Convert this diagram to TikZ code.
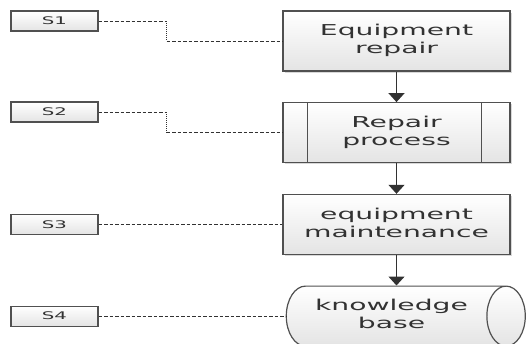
\documentclass[tikz,border=0pt]{standalone}
\usepackage{fontspec}
\setmainfont{DejaVu Sans}
\usepackage{graphicx}
\usetikzlibrary{arrows.meta,shapes.geometric,positioning,shadows}
\definecolor{fcgray}{RGB}{50,50,50}
\definecolor{fcline}{RGB}{80,80,80}
\definecolor{fcfill}{RGB}{228,228,228}
\newcommand{\widetext}[1]{\scalebox{1.88}[1]{\begin{tabular}{@{}c@{}}#1\end{tabular}}}
\tikzstyle{arrow} = [line width=1.3pt,-{Triangle[width=16pt,length=9pt]},color=fcgray]
\tikzstyle{link} = [line width=1pt,dash pattern=on 3.5pt off 2pt,color=fcgray]
\tikzstyle{knee} = [line width=1.6pt,dash pattern=on 1pt off 1pt,color=fcgray]
\tikzstyle{stepbox} = [rectangle, minimum width=227pt, minimum height=60pt, draw=fcline, line width=1.2pt, top color=white, bottom color=fcfill, text=fcgray, font=\fontsize{15}{18}\selectfont, drop shadow={shadow xshift=1.5pt, shadow yshift=-1.5pt, fill=black!30, opacity=0.5}]
\tikzstyle{sbox} = [rectangle, minimum width=87pt, minimum height=20pt, draw=fcline, line width=1.1pt, top color=white, bottom color=fcfill, text=fcgray, font=\fontsize{10.5}{12}\selectfont, drop shadow={shadow xshift=1pt, shadow yshift=-1pt, fill=black!30, opacity=0.5}]
\tikzstyle{store} = [cylinder, shape border rotate=0, aspect=0.9, minimum height=239pt, minimum width=60pt, draw=fcline, line width=1.2pt, top color=white, bottom color=fcfill, text=fcgray, font=\fontsize{15}{18}\selectfont]

\begin{document}
\begin{tikzpicture}
\useasboundingbox (0,0) rectangle (527pt,-343pt);
% main chain
\node (eqr) [stepbox] at (396.5pt,-41pt) {\widetext{Equipment\\repair}};
\node (rp) [stepbox, below=30.5pt of eqr] {\widetext{Repair\\process}};
\node (mnt) [stepbox, below=30.5pt of rp] {\widetext{equipment\\maintenance}};
\node (kb) [store, below=30.5pt of mnt, xshift=-5pt] {\widetext{knowledge\\base}};

\draw[fcline, line width=1.2pt] ([xshift=25pt]rp.north west) -- ([xshift=25pt]rp.south west);
\draw[fcline, line width=1.2pt] ([xshift=-29pt]rp.north east) -- ([xshift=-29pt]rp.south east);

\draw[arrow] (eqr) -- (rp);
\draw[arrow] (rp) -- (mnt);
\draw[arrow] (mnt) -- (kb.north -| mnt.south);

% side labels
\node (s1) [sbox] at (54.5pt,-21pt) {\scalebox{1.88}[1]{S1}};
\node (s2) [sbox] at (54.5pt,-112pt) {\scalebox{1.88}[1]{S2}};
\node (s3) [sbox] at (s1 |- mnt) {\scalebox{1.88}[1]{S3}};
\node (s4) [sbox] at (s1 |- kb) {\scalebox{1.88}[1]{S4}};

\draw[link] (s1.east) -- ++(68pt,0) coordinate (k1);
\draw[knee] (k1) -- (k1 |- eqr.west);
\draw[link] (k1 |- eqr.west) -- (eqr.west);
\draw[link] (s2.east) -- ++(68pt,0) coordinate (k2);
\draw[knee] (k2) -- (k2 |- rp.west);
\draw[link] (k2 |- rp.west) -- (rp.west);
\draw[link] (s3) -- (mnt);
\draw[link] (s4) -- (kb);
\end{tikzpicture}
\end{document}
